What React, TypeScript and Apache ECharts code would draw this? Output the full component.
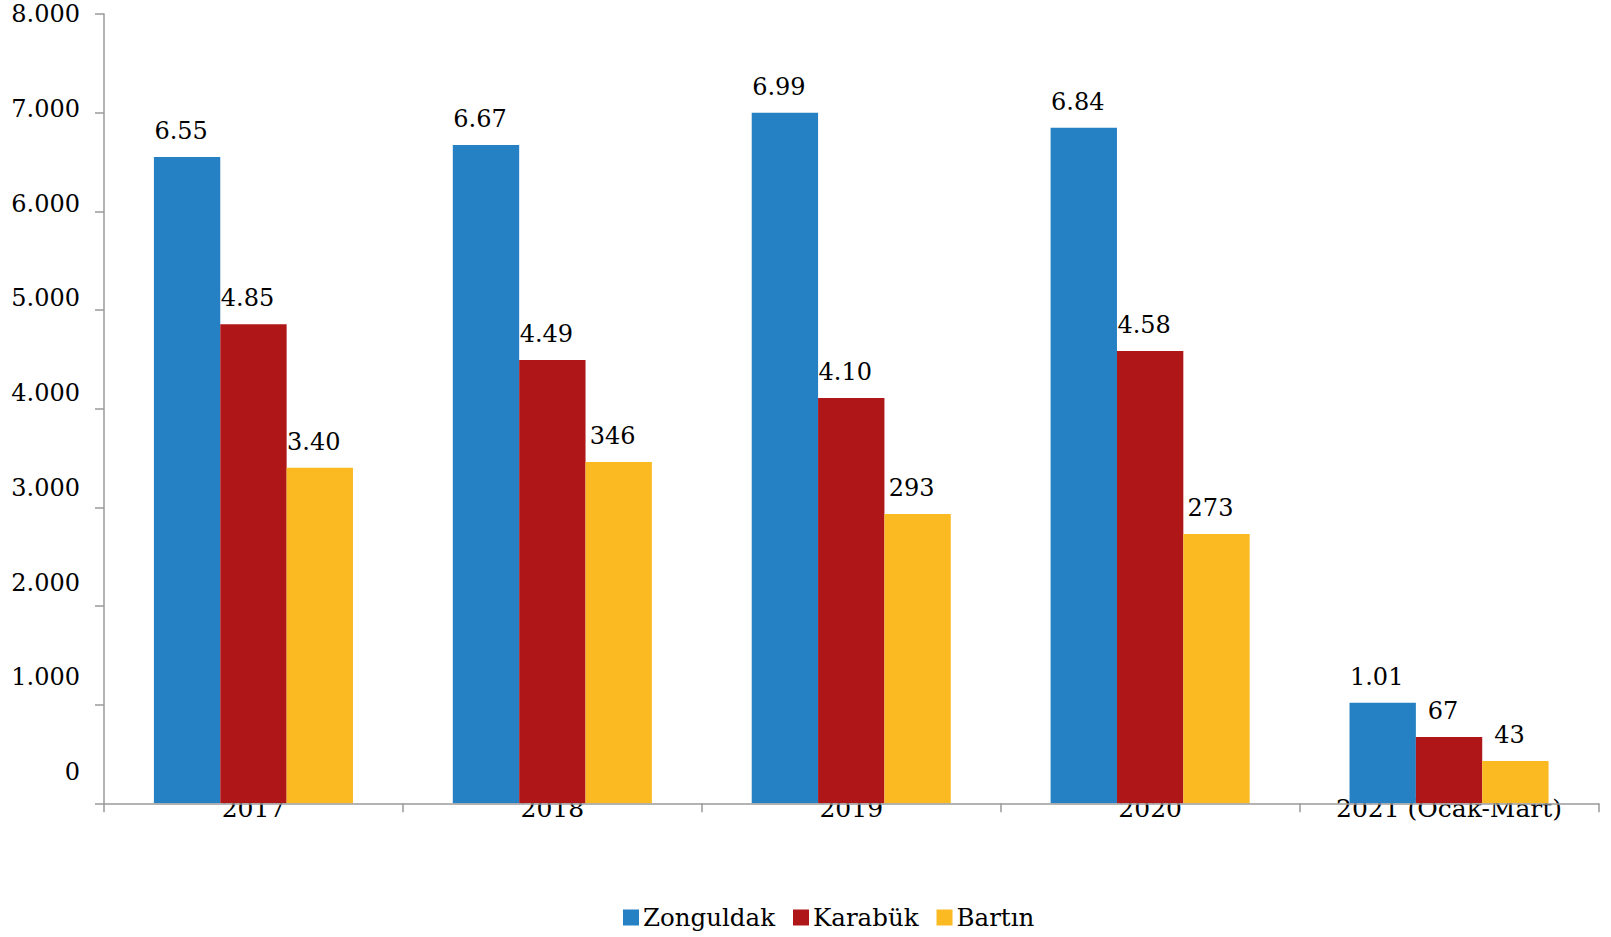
import React, { useEffect, useRef } from "react";
import * as echarts from "echarts";

const categories = ["2017", "2018", "2019", "2020", "2021 (Ocak-Mart)"];
const seriesNames = ["Zonguldak", "Karabük", "Bartın"];
const zonguldakValues = [6551, 6672, 6998, 6848, 1020];
const karabukValues = [4856, 4493, 4108, 4584, 672];
const bartinValues = [3400, 3459, 2932, 2729, 429];
const zonguldakLabels = ["6.55", "6.67", "6.99", "6.84", "1.01"];
const karabukLabels = ["4.85", "4.49", "4.10", "4.58", "67"];
const bartinLabels = ["3.40", "346", "293", "273", "43"];
const yTickLabels = ["0", "1.000", "2.000", "3.000", "4.000", "5.000", "6.000", "7.000", "8.000"];
const colors = ["#2581C4", "#AE1618", "#FBBA22"];

const FONT = "DejaVu Serif";
const AXIS_GRAY = "#9a9a9a";
const TEXT = "#000";

export default function App() {
  const ref = useRef<HTMLDivElement>(null);

  useEffect(() => {
    if (!ref.current) return;
    const chart = echarts.init(ref.current, undefined, { renderer: "svg" });

    const mkSeries = (name: string, values: number[], labels: string[], color: string) => ({
      name,
      type: "bar",
      xAxisIndex: 0,
      yAxisIndex: 0,
      data: values,
      barGap: "0%",
      barCategoryGap: "33.4%",
      itemStyle: { color },
      z: 2,
      label: {
        show: true,
        position: "top",
        distance: 14,
        offset: [-6, 0],
        fontFamily: FONT,
        fontSize: 24,
        lineHeight: 24,
        color: TEXT,
        formatter: (p: any) => labels[p.dataIndex],
      },
    });

    chart.setOption({
      animation: false,
      backgroundColor: "#ffffff",
      textStyle: { fontFamily: FONT },
      legend: {
        data: seriesNames,
        left: 618,
        top: 900,
        icon: "rect",
        itemWidth: 16,
        itemHeight: 16,
        itemGap: 18,
        textStyle: { fontFamily: FONT, fontSize: 24.5, color: TEXT, padding: [0, 0, 0, -1] },
      },
      grid: [
        { left: 104, right: 12.5, top: 14, bottom: 133.7, containLabel: false },
        { left: 104, right: 12.5, top: 14, height: 758, containLabel: false },
      ],
      xAxis: [
        {
          type: "category",
          gridIndex: 0,
          data: categories,
          z: 3,
          axisLine: { show: true, lineStyle: { color: AXIS_GRAY, width: 1.5 } },
          axisTick: { show: true, interval: 0, length: 9, lineStyle: { color: AXIS_GRAY, width: 1.5 } },
          axisLabel: { show: false },
          splitLine: { show: false },
        },
        {
          type: "category",
          gridIndex: 0,
          position: "bottom",
          data: categories,
          z: 0,
          axisLine: { show: false },
          axisTick: { show: false },
          axisLabel: {
            show: true,
            interval: 0,
            margin: -7,
            fontFamily: FONT,
            fontSize: 25,
            lineHeight: 25,
            color: TEXT,
          },
          splitLine: { show: false },
        },
        {
          type: "value",
          gridIndex: 1,
          show: false,
        },
      ],
      yAxis: [
        {
          type: "value",
          gridIndex: 0,
          min: 0,
          max: 8000,
          interval: 1000,
          axisLine: { show: true, lineStyle: { color: AXIS_GRAY, width: 1.5 } },
          axisTick: { show: true, length: 9, lineStyle: { color: AXIS_GRAY, width: 1.5 } },
          axisLabel: { show: false },
          splitLine: { show: false },
        },
        {
          type: "value",
          gridIndex: 1,
          min: 0,
          max: 8000,
          interval: 1000,
          axisLine: { show: false },
          axisTick: { show: false },
          splitLine: { show: false },
          axisLabel: {
            show: true,
            margin: 24,
            fontFamily: FONT,
            fontSize: 24,
            color: TEXT,
            formatter: (v: number) => yTickLabels[Math.round(v / 1000)],
          },
        },
      ],
      series: [
        mkSeries(seriesNames[0], zonguldakValues, zonguldakLabels, colors[0]),
        mkSeries(seriesNames[1], karabukValues, karabukLabels, colors[1]),
        mkSeries(seriesNames[2], bartinValues, bartinLabels, colors[2]),
      ],
    });

    return () => chart.dispose();
  }, []);

  return (
    <div
      ref={ref}
      style={{ position: "fixed", left: 0, top: 0, width: 1611, height: 937, background: "#fff" }}
    />
  );
}
